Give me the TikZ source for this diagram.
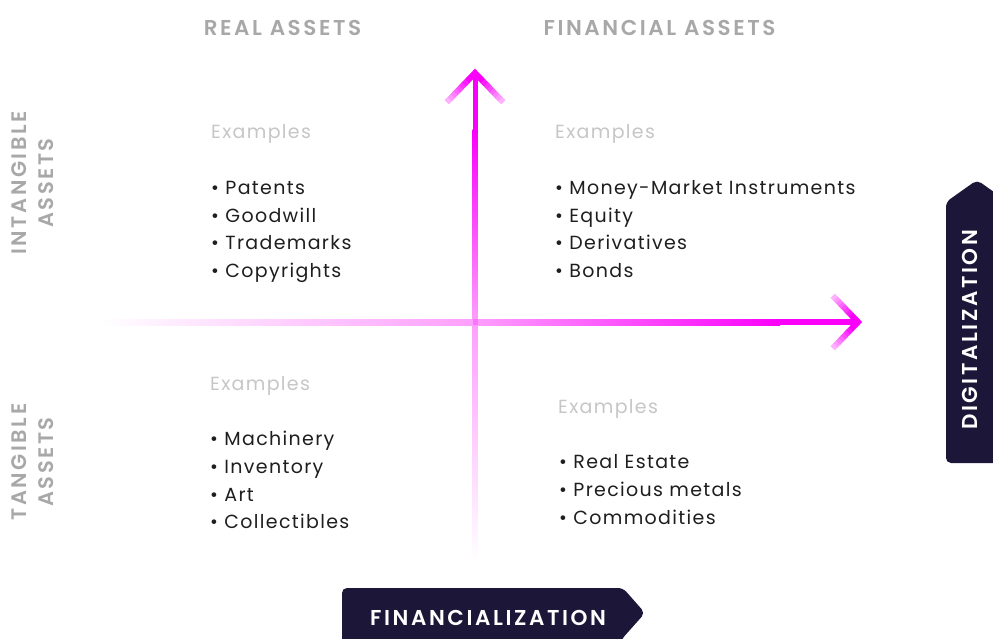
\documentclass[tikz,border=0pt]{standalone}
\usepackage{fontspec}
\setmainfont{Poppins}
\newfontfamily\bodyfont[LetterSpace=7]{Poppins}
\newfontfamily\headfont[LetterSpace=12]{Poppins SemiBold}
\usetikzlibrary{calc}
\definecolor{mag}{RGB}{250,0,250}
\definecolor{navy}{HTML}{1C1738}
\definecolor{headgray}{HTML}{A8A8A8}
\definecolor{exgray}{HTML}{C6C6C6}
\definecolor{txt}{HTML}{1E1E1E}
\tikzset{
  head/.style={font=\headfont\fontsize{21.5}{27}\selectfont, text=headgray, inner sep=0pt, anchor=base},
  sidehead/.style={font=\headfont\fontsize{21}{27}\selectfont, text=headgray, inner sep=0pt, align=center, rotate=90},
  exlabel/.style={font=\bodyfont\fontsize{19}{20}\selectfont, text=exgray, inner sep=0pt, anchor=base west},
  bul/.style={font=\bodyfont\fontsize{19}{20}\selectfont, text=txt, inner sep=0pt, anchor=base west},
  tabtext/.style={font=\headfont\fontsize{21.5}{20}\selectfont, text=white, inner sep=0pt},
  tabshape/.style={fill=navy, rounded corners=5pt},
  wing/.style={line width=6pt, line cap=butt},
}
\begin{document}
\begin{tikzpicture}[x=1pt,y=-1pt]
\useasboundingbox (0,0) rectangle (993,639);
\clip (0,0) rectangle (993,639);

% ---- axes shafts ----
% horizontal
\shade[left color=mag!0, right color=mag!38] (100,319) rectangle (475,325);
\shade[left color=mag!38, right color=mag] (475,319) rectangle (780,325);
\fill[mag] (780,319) rectangle (855,325);
% vertical
\shade[top color=mag!38, bottom color=mag!0] (472.5,322) rectangle (477.5,562);
\shade[top color=mag, bottom color=mag!38] (472.5,130) rectangle (477.5,322);
\fill[mag] (472.5,76) rectangle (477.5,130);
\fill[mag!55] (472.5,319) rectangle (477.5,325);

% ---- arrow heads ----
\coordinate (vtip) at (475,73);
\coordinate (vl) at (447,102);
\coordinate (vr) at (503,102);
\coordinate (htip) at (858,322);
\coordinate (hu) at (833,296);
\coordinate (hd) at (833,348);
\draw[mag, line width=6pt, line join=miter] ($(vtip)!0.3!(vl)$) -- (vtip) -- ($(vtip)!0.3!(vr)$);
\draw[mag, line width=6pt, line join=miter] ($(htip)!0.3!(hu)$) -- (htip) -- ($(htip)!0.3!(hd)$);
\foreach \e in {vl,vr}{
  \foreach \i in {3,...,9}{
    \pgfmathsetmacro{\a}{\i/10}
    \pgfmathsetmacro{\b}{\i/10+0.11}
    \pgfmathsetmacro{\c}{100-10*(\i-2)}
    \draw[wing, draw=mag!\c] ($(vtip)!\a!(\e)$) -- ($(vtip)!\b!(\e)$);
  }
}
\foreach \e in {hu,hd}{
  \foreach \i in {3,...,9}{
    \pgfmathsetmacro{\a}{\i/10}
    \pgfmathsetmacro{\b}{\i/10+0.11}
    \pgfmathsetmacro{\c}{100-10*(\i-2)}
    \draw[wing, draw=mag!\c] ($(htip)!\a!(\e)$) -- ($(htip)!\b!(\e)$);
  }
}

% ---- headers ----
\node[head] (real) at (282.5,35.5) {REAL ASSETS};
\node[head] (fin) at (659.5,35.5) {FINANCIAL ASSETS};
\node[sidehead] (intang) at (33,183) {INTANGIBLE\\ASSETS};
\node[sidehead] (tang) at (33,462) {TANGIBLE\\ASSETS};

% ---- quadrant: intangible real ----
\node[exlabel] (ex1) at (211,138.5) {Examples};
\node[bul] (a1) at (211,194.5) {• Patents};
\node[bul] (a2) at (211,222.2) {• Goodwill};
\node[bul] (a3) at (211,249.9) {• Trademarks};
\node[bul] (a4) at (211,277.6) {• Copyrights};

% ---- quadrant: intangible financial ----
\node[exlabel] (ex2) at (555,138.5) {Examples};
\node[bul] (b1) at (555,194.5) {• Money-Market Instruments};
\node[bul] (b2) at (555,222.2) {• Equity};
\node[bul] (b3) at (555,249.9) {• Derivatives};
\node[bul] (b4) at (555,277.6) {• Bonds};

% ---- quadrant: tangible real ----
\node[exlabel] (ex3) at (210,390.5) {Examples};
\node[bul] (c1) at (210,445.5) {• Machinery};
\node[bul] (c2) at (210,473.3) {• Inventory};
\node[bul] (c3) at (210,501.1) {• Art};
\node[bul] (c4) at (210,528.9) {• Collectibles};

% ---- quadrant: tangible financial ----
\node[exlabel] (ex4) at (558,413.5) {Examples};
\node[bul] (d1) at (559,468.5) {• Real Estate};
\node[bul] (d2) at (559,496.3) {• Precious metals};
\node[bul] (d3) at (559,524.1) {• Commodities};

% ---- tabs ----
\path[tabshape] (946,463) -- (946,202) -- (977,180) -- (1008,202) -- (1008,463) -- cycle;
\node[tabtext, rotate=90] (dig) at (970,330) {DIGITALIZATION};
\path[tabshape] (342,660) -- (342,588) -- (623,588) -- (645,613) -- (621,640) -- (621,660) -- cycle;
\node[tabtext] (finz) at (488,618) {FINANCIALIZATION};
\end{tikzpicture}
\end{document}
